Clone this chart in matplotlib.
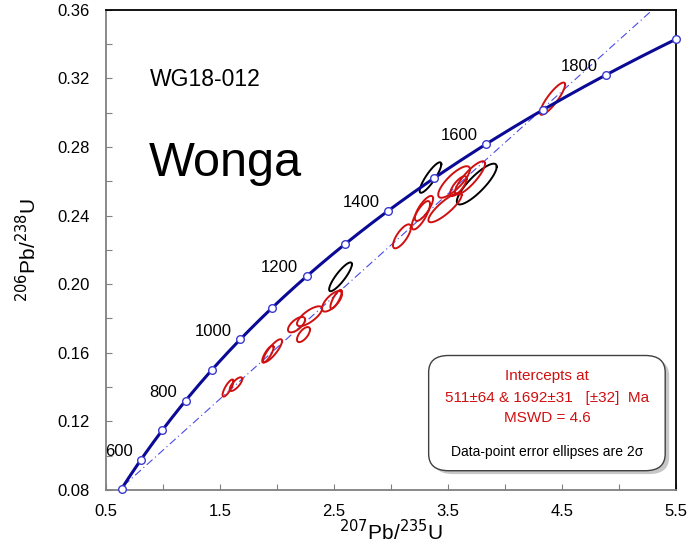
import numpy as np
import matplotlib.pyplot as plt
from matplotlib.patches import FancyBboxPatch

plt.rcParams['font.family'] = ['Liberation Sans', 'DejaVu Sans']

# decay constants (1/yr)
L238 = 1.55125e-10
L235 = 9.8485e-10

# concordia ages (Ma)
curve_start, curve_end = 500, 1900
marker_ages = [500, 600, 700, 800, 900, 1000, 1100, 1200, 1300, 1400, 1500, 1600, 1700, 1800, 1900]
label_ages = [600, 800, 1000, 1200, 1400, 1600, 1800]

# discordia intercepts (Ma)
lower_int = 511
upper_int = 1692

# ellipses: centre x, centre y, half-width x, half-height y, rho
ell_x = [4.417, 3.346, 3.752, 3.553, 3.693, 3.591, 3.474, 3.262, 3.289, 3.096,
         2.557, 2.482, 2.518, 2.285, 2.171, 2.232, 1.961, 1.920, 1.570, 1.640]
ell_y = [0.3082, 0.2622, 0.2584, 0.2596, 0.2620, 0.2572, 0.2447, 0.2402, 0.2442, 0.2279,
         0.2043, 0.1900, 0.1912, 0.1813, 0.1764, 0.1706, 0.1612, 0.1592, 0.1394, 0.1417]
ell_sx = [0.110, 0.095, 0.175, 0.139, 0.132, 0.073, 0.146, 0.080, 0.080, 0.079,
          0.100, 0.088, 0.050, 0.110, 0.075, 0.057, 0.083, 0.050, 0.048, 0.055]
ell_sy = [0.0094, 0.0089, 0.0119, 0.0092, 0.0097, 0.0058, 0.0086, 0.0083, 0.0073, 0.0070,
          0.0084, 0.0060, 0.0055, 0.0058, 0.0045, 0.0044, 0.0067, 0.0050, 0.0050, 0.0040]
ell_rho = [0.87, 0.87, 0.85, 0.80, 0.85, 0.75, 0.85, 0.78, 0.78, 0.75,
           0.87, 0.70, 0.80, 0.75, 0.65, 0.65, 0.84, 0.80, 0.80, 0.75]
ell_black = [1, 2, 10]


def concordia(t_ma):
    t = np.asarray(t_ma) * 1e6
    return np.exp(L235 * t) - 1, np.exp(L238 * t) - 1


fig = plt.figure(figsize=(6.93, 5.48), dpi=100)
ax = fig.add_axes([0.153, 0.106, 0.8225, 0.876])

# discordia
x1, y1 = concordia(lower_int)
x2, y2 = concordia(upper_int)
s = np.array([0, 2])
ax.plot(x1 + s * (x2 - x1), y1 + s * (y2 - y1), color='#4a4ae8', lw=0.8,
        linestyle=(0, (7, 3, 1, 3)), zorder=2)

# ellipses
tt = np.linspace(0, 2 * np.pi, 200)
for i in range(len(ell_x)):
    r = ell_rho[i]
    ex = ell_x[i] + ell_sx[i] * np.cos(tt)
    ey = ell_y[i] + ell_sy[i] * (r * np.cos(tt) + np.sqrt(1 - r * r) * np.sin(tt))
    col = 'black' if i in ell_black else '#d01010'
    ax.plot(ex, ey, color=col, lw=1.4, zorder=3)

# concordia curve
cx, cy = concordia(np.linspace(curve_start, curve_end, 400))
ax.plot(cx, cy, color='#0a0a96', lw=2.2, zorder=4)
mx, my = concordia(marker_ages)
ax.plot(mx, my, 'o', ms=5.5, mfc='white', mec='#3a3ad0', mew=1.0, zorder=5, clip_on=False)
for a in label_ages:
    lx, ly = concordia(a)
    ax.annotate(str(a), (lx, ly), xytext=(-6, 6), textcoords='offset points',
                ha='right', va='center', fontsize=12)

ax.set_xlim(0.5, 5.5)
ax.set_ylim(0.08, 0.36)
ax.set_xticks(np.arange(0.5, 5.51, 0.5))
ax.set_xticklabels(['0.5', '', '1.5', '', '2.5', '', '3.5', '', '4.5', '', '5.5'])
ax.set_yticks(np.arange(0.08, 0.3601, 0.02))
ax.set_yticklabels(['%.2f' % v if i % 2 == 0 else '' for i, v in
                    enumerate(np.arange(0.08, 0.3601, 0.02))])
ax.tick_params(direction='in', length=4, color='#808080', labelsize=12)
ax.tick_params(axis='y', pad=12)
ax.tick_params(axis='x', pad=10)
for sp in ['left', 'bottom']:
    ax.spines[sp].set_color('#808080')
    ax.spines[sp].set_linewidth(1.3)
for sp in ['top', 'right']:
    ax.spines[sp].set_color('black')
    ax.spines[sp].set_linewidth(1.3)

ax.set_xlabel('$^{207}$Pb/$^{235}$U', fontsize=15, labelpad=0)
ax.set_ylabel('$^{206}$Pb/$^{238}$U', fontsize=15, labelpad=12)

ax.text(0.077, 0.855, 'WG18-012', transform=ax.transAxes, fontsize=16.5, va='center')
ax.text(0.075, 0.68, 'Wonga', transform=ax.transAxes, fontsize=35, va='center')

# result box
shadow = FancyBboxPatch((0.573, 0.033), 0.415, 0.24, boxstyle='round,pad=0,rounding_size=0.035',
                        transform=ax.transAxes, fc='#b0b0b0', ec='none', zorder=6, alpha=0.7)
box = FancyBboxPatch((0.566, 0.04), 0.415, 0.24, boxstyle='round,pad=0,rounding_size=0.035',
                     transform=ax.transAxes, fc='white', ec='#404040', lw=1.0, zorder=7)
ax.add_patch(shadow)
ax.add_patch(box)
bx = 0.7735
ax.text(bx, 0.238, 'Intercepts at', transform=ax.transAxes, ha='center', va='center',
        color='#d01010', fontsize=11, zorder=8)
ax.text(bx, 0.192, '511±64 & 1692±31   [±32]  Ma', transform=ax.transAxes, ha='center',
        va='center', color='#d01010', fontsize=11, zorder=8)
ax.text(bx, 0.150, 'MSWD = 4.6', transform=ax.transAxes, ha='center', va='center',
        color='#d01010', fontsize=11, zorder=8)
ax.text(bx, 0.080, 'Data-point error ellipses are 2σ', transform=ax.transAxes, ha='center',
        va='center', color='black', fontsize=10, zorder=8)

fig.savefig('out.png', dpi=100)
